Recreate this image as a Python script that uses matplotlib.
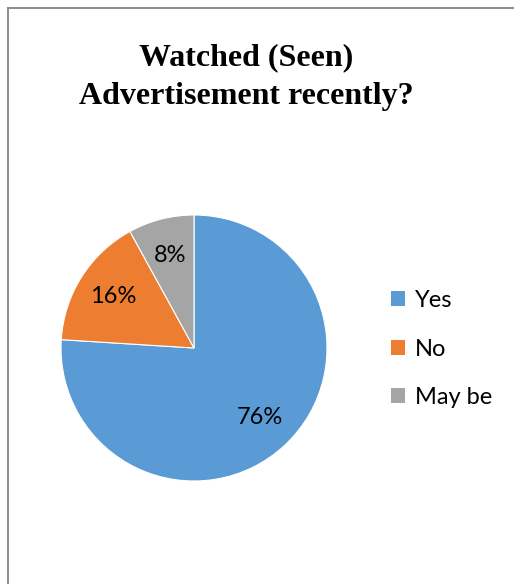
import matplotlib
matplotlib.use("Agg")
import matplotlib.pyplot as plt
from matplotlib.patches import Patch
from matplotlib.lines import Line2D

labels = ["Yes", "No", "May be"]
shares = [76, 16, 8]
colors = ["#5b9bd5", "#ed7d31", "#a5a5a5"]
title_lines = ["Watched (Seen)", "Advertisement recently?"]

W, H = 514, 584
fig = plt.figure(figsize=(W / 100, H / 100), dpi=100)


def fx(px):
    return px / W


def fy(py):
    return 1 - py / H


# frame (only top and left edges are in view)
fig.add_artist(Line2D([fx(8), 1.0], [fy(8), fy(8)], color="#8c8c8c", lw=1.4))
fig.add_artist(Line2D([fx(8), fx(8)], [fy(8), 0.0], color="#8c8c8c", lw=1.4))

# title
for text, y in zip(title_lines, [58, 97]):
    fig.text(fx(246), fy(y), text, ha="center", va="center",
             fontsize=23, fontweight="bold", family="Liberation Serif")

# pie
cx, cy, r = 194, 348, 133
ax = fig.add_axes([fx(cx - r), fy(cy + r), 2 * r / W, 2 * r / H])
wedges, _, autotexts = ax.pie(shares, colors=colors, startangle=90, counterclock=False,
                              autopct="%.0f%%", pctdistance=0.72, radius=1,
                              wedgeprops=dict(edgecolor="white", linewidth=0.8),
                              textprops=dict(fontsize=17, family="Lato", color="#000000"))
ax.set_xlim(-1, 1)
ax.set_ylim(-1, 1)
ax.set_aspect("equal")
ax.axis("off")

# legend
handles = [Patch(facecolor=c, edgecolor="none") for c in colors]
fig.legend(handles, labels, loc="center left", bbox_to_anchor=(fx(391), fy(349)),
           frameon=False, prop=dict(family="Lato", size=17),
           handlelength=0.6, handleheight=0.6, handletextpad=0.4, labelspacing=1.17,
           borderpad=0, borderaxespad=0)

fig.savefig("out.png", dpi=100, facecolor="white")
